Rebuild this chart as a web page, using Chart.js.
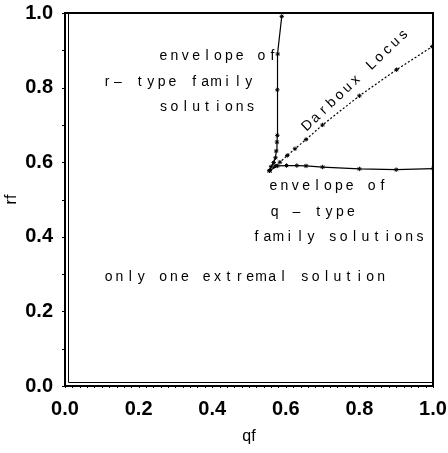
<!DOCTYPE html>
<html>
<head>
<meta charset="utf-8">
<script src="https://cdn.jsdelivr.net/npm/chart.js@4"></script>
<style>
  html, body { margin: 0; padding: 0; background: #fff; }
  #wrap { width: 448px; height: 453px; }
</style>
</head>
<body>
<div id="wrap"><canvas id="chart" width="448" height="453"></canvas></div>
<script>
// r-type family envelope (qf, rf)
const rEnvQ = [0.556, 0.560, 0.567, 0.572, 0.574, 0.576, 0.577, 0.577, 0.578, 0.589];
const rEnvR = [0.577, 0.588, 0.599, 0.612, 0.630, 0.654, 0.672, 0.794, 0.890, 0.991];

// q-type family envelope
const qEnvQ = [0.556, 0.577, 0.602, 0.630, 0.655, 0.700, 0.800, 0.900, 1.000];
const qEnvR = [0.577, 0.590, 0.591, 0.591, 0.590, 0.587, 0.582, 0.580, 0.583];

// Darboux locus
const darQ = [0.556, 0.571, 0.584, 0.604, 0.625, 0.655, 0.700, 0.800, 0.901, 0.998];
const darR = [0.577, 0.590, 0.600, 0.618, 0.636, 0.661, 0.700, 0.778, 0.848, 0.910];

const tickValues = [0, 0.2, 0.4, 0.6, 0.8, 1.0];

// text labels, left end given in data coords
const notes = [
  { text: 'envelope of', q: 0.258, r: 0.885 },
  { text: 'r\u2013 type family', q: 0.105, r: 0.815 },
  { text: 'solutions', q: 0.258, r: 0.747 },
  { text: 'envelope of', q: 0.557, r: 0.536 },
  { text: 'q \u2013 type', q: 0.560, r: 0.465 },
  { text: 'family solutions', q: 0.511, r: 0.398 },
  { text: 'only one extremal solution', q: 0.109, r: 0.293 }
];
const darbouxNote = { text: 'Darboux Locus', q: 0.789, r: 0.82, angle: -43.5 };

const toPts = (xs, ys) => xs.map((x, i) => ({ x: x, y: ys[i] }));

// plotter style text: every character gets the same cell width
function drawSpaced(ctx, text, x, y, pitch) {
  for (let i = 0; i < text.length; i++) {
    ctx.fillText(text[i], x + pitch / 2 + i * pitch, y);
  }
}

const framePlugin = {
  id: 'frame',
  afterDatasetsDraw(chart) {
    const { ctx, chartArea: a, scales } = chart;
    ctx.save();
    ctx.strokeStyle = '#000';
    // outer frame
    ctx.lineWidth = 2;
    ctx.strokeRect(a.left, a.top, a.right - a.left, a.bottom - a.top);
    // inner double line on left and bottom
    ctx.lineWidth = 1;
    ctx.beginPath();
    ctx.moveTo(a.left + 3.5, a.top);
    ctx.lineTo(a.left + 3.5, a.bottom - 3.5);
    ctx.lineTo(a.right, a.bottom - 3.5);
    ctx.stroke();
    // minor ticks
    const x = scales.x, y = scales.y;
    ctx.beginPath();
    for (let v = 0; v <= 1.0001; v += 0.02) {
      const px = Math.round(x.getPixelForValue(v)) + 0.5;
      ctx.moveTo(px, a.bottom);
      ctx.lineTo(px, a.bottom + 2);
    }
    for (let v = 0; v <= 1.0001; v += 0.1) {
      const py = Math.round(y.getPixelForValue(v)) + 0.5;
      ctx.moveTo(a.left - 3, py);
      ctx.lineTo(a.left, py);
    }
    ctx.stroke();

    // annotations
    ctx.fillStyle = '#000';
    ctx.font = '14px "Liberation Sans", Arial, sans-serif';
    ctx.textBaseline = 'middle';
    ctx.textAlign = 'center';
    notes.forEach(n => {
      drawSpaced(ctx, n.text, x.getPixelForValue(n.q) - 2, y.getPixelForValue(n.r), 10.9);
    });
    ctx.translate(x.getPixelForValue(darbouxNote.q), y.getPixelForValue(darbouxNote.r));
    ctx.rotate(darbouxNote.angle * Math.PI / 180);
    const pitch = 11;
    drawSpaced(ctx, darbouxNote.text, -pitch * darbouxNote.text.length / 2, 0, pitch);
    ctx.restore();
  }
};

const lineSet = (data, dash) => ({
  data: data,
  showLine: true,
  borderColor: '#000',
  backgroundColor: '#000',
  borderWidth: 1.2,
  borderDash: dash,
  pointStyle: 'star',
  pointRadius: 2.2,
  pointBorderWidth: 1,
  pointBorderColor: '#000',
  tension: 0
});

const tickFont = { family: '"Liberation Sans", Arial, sans-serif', size: 20, weight: 'bold' };
const titleFont = { family: '"Liberation Sans", Arial, sans-serif', size: 16 };

new Chart(document.getElementById('chart'), {
  type: 'scatter',
  data: {
    datasets: [
      lineSet(toPts(rEnvQ, rEnvR), []),
      lineSet(toPts(qEnvQ, qEnvR), []),
      lineSet(toPts(darQ, darR), [2, 2])
    ]
  },
  options: {
    responsive: false,
    animation: false,
    layout: { padding: { top: 13, right: 15, left: 0, bottom: 0 } },
    plugins: { legend: { display: false }, tooltip: { enabled: false } },
    scales: {
      x: {
        type: 'linear',
        min: 0, max: 1,
        afterBuildTicks: s => { s.ticks = tickValues.map(v => ({ value: v })); },
        afterFit: s => { s.height = 67; s.paddingLeft = 0; s.paddingRight = 0; },
        grid: { display: false, drawTicks: true, tickLength: 5, tickColor: '#000' },
        border: { display: true, color: '#000', width: 2 },
        ticks: {
          color: '#000',
          padding: 6,
          maxRotation: 0,
          font: tickFont,
          callback: v => v.toFixed(1)
        },
        title: {
          display: true, text: 'qf', color: '#000',
          font: titleFont,
          padding: { top: 0, bottom: 7 }
        }
      },
      y: {
        type: 'linear',
        min: 0, max: 1,
        afterBuildTicks: s => { s.ticks = tickValues.map(v => ({ value: v })); },
        afterFit: s => { s.width = 65; s.paddingTop = 0; s.paddingBottom = 0; },
        grid: { display: false, drawTicks: true, tickLength: 6, tickColor: '#000' },
        border: { display: true, color: '#000', width: 2 },
        ticks: {
          color: '#000',
          padding: 6,
          font: tickFont,
          callback: v => v.toFixed(1)
        },
        title: {
          display: true, text: 'rf', color: '#000',
          font: titleFont,
          padding: { top: 2, bottom: 0 }
        }
      }
    }
  },
  plugins: [framePlugin]
});
</script>
</body>
</html>
